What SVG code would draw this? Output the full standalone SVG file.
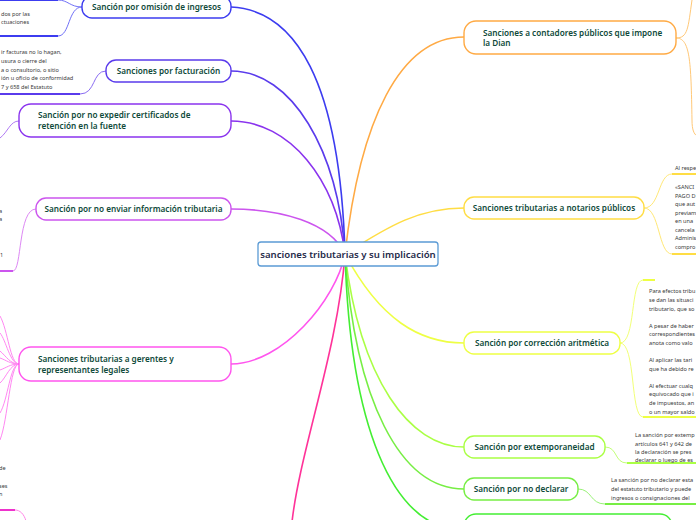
<svg xmlns="http://www.w3.org/2000/svg" width="696" height="520" viewBox="0 0 696 520">
<style>
.box{fill:#fff;stroke-width:1.4}
.lbl{font-family:"Noto Sans","Open Sans",sans-serif;font-size:8.2px;font-weight:600;fill:#0f4a3a}
.ctr{font-family:"Noto Sans","Open Sans",sans-serif;font-size:9.6px;font-weight:600;fill:#1f2b4a}
.sub{font-family:"Noto Sans","Open Sans",sans-serif;font-size:5.6px;fill:#3a3a3a}
.c{fill:none;stroke-width:1.6;stroke-linecap:round}
.t{fill:none;stroke-width:1}
.u{fill:none;stroke-width:2}
</style>
<rect width="696" height="520" fill="#fff"/>
<g id="connectors">
  <path class="c" stroke="#3c3cf0" d="M231,7 C295,10 340,80 345,254"/>
  <path class="c" stroke="#5a3bec" d="M231,71 C292,71 338,150 345,254"/>
  <path class="c" stroke="#8a33ee" d="M231,121 C290,121 336,180 345,254"/>
  <path class="c" stroke="#cc55ee" d="M231,209 C280,209 330,222 345,254"/>
  <path class="c" stroke="#ff55ee" d="M231,364 C282,364 336,300 345,254"/>
  <path class="c" stroke="#ff3399" d="M345,254 C338,350 300,450 292,522"/>
  <path class="c" stroke="#ffaa44" d="M345,254 C360,120 400,37 464,37"/>
  <path class="c" stroke="#ffdd44" d="M345,254 C390,225 420,208 464,208"/>
  <path class="c" stroke="#eeff44" d="M345,254 C380,320 420,343 464,343"/>
  <path class="c" stroke="#aaff44" d="M345,254 C360,380 410,447 464,447"/>
  <path class="c" stroke="#77ee44" d="M345,254 C355,400 400,489 464,489"/>
  <path class="c" stroke="#44ee33" d="M345,254 C350,420 390,530 464,530"/>
  <path class="t" stroke="#6f6ff7" d="M82,7 C70,7 68,0 58,0"/>
  <path class="t" stroke="#6f6ff7" d="M82,7 C68,7 70,36 58,36"/>
  <path class="u" stroke="#3c3cf0" d="M0,0 H58 M0,36 H58"/>
  <path class="t" stroke="#8a6cf2" d="M106,71 C92,71 96,94 80,94"/>
  <path class="u" stroke="#5a3bec" d="M0,94 H80"/>
  <path class="t" stroke="#b07af4" d="M19,121 C10,121 8,132 0,138"/>
  <path class="t" stroke="#dd88f4" d="M36,209 C18,209 22,271 13,271"/>
  <path class="u" stroke="#cc55ee" d="M0,271 H13"/>
  <g stroke="#ff88f2">
    <path class="t" d="M19,364 C10,364 8,330 0,316"/>
    <path class="t" d="M19,364 C10,364 6,340 0,333"/>
    <path class="t" d="M19,364 C10,364 6,356 0,351"/>
    <path class="t" d="M19,364 C10,364 6,360 0,358"/>
    <path class="t" d="M19,364 C10,364 6,368 0,370"/>
    <path class="t" d="M19,364 C10,364 6,378 0,383"/>
    <path class="t" d="M19,364 C10,364 8,400 0,413"/>
    <path class="t" d="M19,364 C10,364 8,420 0,440"/>
  </g>
  <path class="u" stroke="#ee33cc" d="M0,510 H15"/>
  <path class="t" stroke="#ff88e8" d="M15,510 C20,510 24,514 26,521"/>
  <path class="t" stroke="#ffc877" d="M676,38 C688,38 688,28 692,0"/>
  <path class="t" stroke="#ffc877" d="M676,38 C690,38 691,60 692,120 C692,130 694,134 697,136"/>
  <path class="t" stroke="#ffe877" d="M644,208 C660,208 658,174 672,174"/>
  <path class="t" stroke="#ffe877" d="M644,208 C660,208 658,254 672,254"/>
  <path class="u" stroke="#ffdd44" d="M672,174 H697 M672,254 H697"/>
  <path class="t" stroke="#f2ff77" d="M620,343 C636,343 630,280 643,280"/>
  <path class="t" stroke="#f2ff77" d="M620,343 C636,343 630,417 643,417"/>
  <path class="u" stroke="#eeff44" d="M643,280 H655 M643,417 H697"/>
  <path class="t" stroke="#c2ff77" d="M605,447 C618,447 614,463 627,463"/>
  <path class="u" stroke="#aaff44" d="M627,463 H697"/>
  <path class="t" stroke="#99f277" d="M578,489 C592,489 590,504 605,504"/>
  <path class="u" stroke="#77ee44" d="M605,504 H697"/>
</g>
<g id="center">
  <rect x="258" y="242" width="180" height="24" rx="3" fill="#fff" stroke="#5b9bd5" stroke-width="1.3"/>
  <text class="ctr" x="348" y="257.5" text-anchor="middle">sanciones tributarias y su implicación</text>
</g>
<g id="n-omision">
  <rect class="box" x="82" y="-4" width="149" height="22" rx="10" stroke="#3c3cf0"/>
  <text class="lbl" x="156.5" y="10" text-anchor="middle">Sanción por omisión de ingresos</text>
</g>
<g id="n-omision-c1">
  <text class="sub" x="1" y="15.5">dos por las</text>
  <text class="sub" x="1" y="23.5">ctuaciones</text>
</g>
<g id="n-facturacion">
  <rect class="box" x="106" y="60" width="125" height="22" rx="10" stroke="#5a3bec"/>
  <text class="lbl" x="168.5" y="74" text-anchor="middle">Sanciones por facturación</text>
</g>
<g id="n-facturacion-c1">
  <text class="sub" x="1" y="54">ir facturas no lo hagan,</text>
  <text class="sub" x="1" y="63">usura o cierre del</text>
  <text class="sub" x="1" y="71.5">a o consultorio, o sitio</text>
  <text class="sub" x="1" y="80">ión u oficio de conformidad</text>
  <text class="sub" x="1" y="88.5">7 y 658 del Estatuto</text>
</g>
<g id="n-certificados">
  <rect class="box" x="19" y="104" width="212" height="33" rx="12" stroke="#8a33ee"/>
  <text class="lbl" x="38" y="118">Sanción por no expedir certificados de</text>
  <text class="lbl" x="38" y="128.7">retención en la fuente</text>
</g>
<g id="n-informacion">
  <rect class="box" x="36" y="198" width="195" height="22" rx="10" stroke="#cc55ee"/>
  <text class="lbl" x="133.5" y="212" text-anchor="middle">Sanción por no enviar información tributaria</text>
</g>
<g id="n-informacion-c1">
  <text class="sub" x="-1" y="213">a</text>
  <text class="sub" x="-1" y="221">a</text>
  <text class="sub" x="0" y="257">1</text>
</g>
<g id="n-gerentes">
  <rect class="box" x="19" y="347" width="212" height="34" rx="12" stroke="#ff55ee"/>
  <text class="lbl" x="38" y="362">Sanciones tributarias a gerentes y</text>
  <text class="lbl" x="38" y="373">representantes legales</text>
</g>
<g id="n-gerentes-c1">
  <text class="sub" x="-1" y="470">de</text>
  <text class="sub" x="-1" y="488">ses</text>
  <text class="sub" x="-1" y="496">n</text>
</g>
<g id="n-contadores">
  <rect class="box" x="464" y="21" width="212" height="33" rx="12" stroke="#ffaa44"/>
  <text class="lbl" x="483" y="35.5">Sanciones a contadores públicos que impone</text>
  <text class="lbl" x="483" y="46">la Dian</text>
</g>
<g id="n-notarios">
  <rect class="box" x="464" y="197" width="180" height="22" rx="10" stroke="#ffdd44"/>
  <text class="lbl" x="554" y="211" text-anchor="middle">Sanciones tributarias a notarios públicos</text>
</g>
<g id="n-notarios-c1">
  <text class="sub" x="675" y="170">Al respe</text>
</g>
<g id="n-notarios-c2">
  <text class="sub" x="675" y="189">«SANCI</text>
  <text class="sub" x="675" y="197.5">PAGO D</text>
  <text class="sub" x="675" y="206">que aut</text>
  <text class="sub" x="675" y="214.5">previam</text>
  <text class="sub" x="675" y="223">en una</text>
  <text class="sub" x="675" y="231.5">cancela</text>
  <text class="sub" x="675" y="240">Adminis</text>
  <text class="sub" x="675" y="248.5">compro</text>
</g>
<g id="n-aritmetica">
  <rect class="box" x="464" y="332" width="156" height="22" rx="10" stroke="#eeff44"/>
  <text class="lbl" x="542" y="346" text-anchor="middle">Sanción por corrección aritmética</text>
</g>
<g id="n-aritmetica-c1">
  <text class="sub" x="649" y="293">Para efectos tribu</text>
  <text class="sub" x="649" y="302">se dan las situaci</text>
  <text class="sub" x="649" y="311">tributario, que so</text>
  <text class="sub" x="649" y="327.5">A pesar de haber</text>
  <text class="sub" x="649" y="336">correspondientes</text>
  <text class="sub" x="649" y="345">anota como valo</text>
  <text class="sub" x="649" y="362">Al aplicar las tari</text>
  <text class="sub" x="649" y="371">que ha debido re</text>
  <text class="sub" x="649" y="387.5">Al efectuar cualq</text>
  <text class="sub" x="649" y="396">equivocado que i</text>
  <text class="sub" x="649" y="405">de impuestos, an</text>
  <text class="sub" x="649" y="413.5">o un mayor saldo</text>
</g>
<g id="n-extemporaneidad">
  <rect class="box" x="464" y="436" width="141" height="22" rx="10" stroke="#aaff44"/>
  <text class="lbl" x="534.5" y="450" text-anchor="middle">Sanción por extemporaneidad</text>
</g>
<g id="n-extemporaneidad-c1">
  <text class="sub" x="635" y="437">La sanción por extemp</text>
  <text class="sub" x="635" y="445.5">artículos 641 y 642 de</text>
  <text class="sub" x="635" y="454">la declaración se pres</text>
  <text class="sub" x="635" y="462">declarar o luego de es</text>
</g>
<g id="n-nodeclarar">
  <rect class="box" x="464" y="478" width="114" height="22" rx="10" stroke="#77ee44"/>
  <text class="lbl" x="521" y="492" text-anchor="middle">Sanción por no declarar</text>
</g>
<g id="n-nodeclarar-c1">
  <text class="sub" x="611" y="482">La sanción por no declarar esta</text>
  <text class="sub" x="611" y="491">del estatuto tributario y puede</text>
  <text class="sub" x="611" y="499.5">ingresos o consignaciones del</text>
</g>
<g id="n-bottom">
  <rect class="box" x="464" y="514" width="208" height="30" rx="12" stroke="#44ee33"/>
</g>
</svg>
